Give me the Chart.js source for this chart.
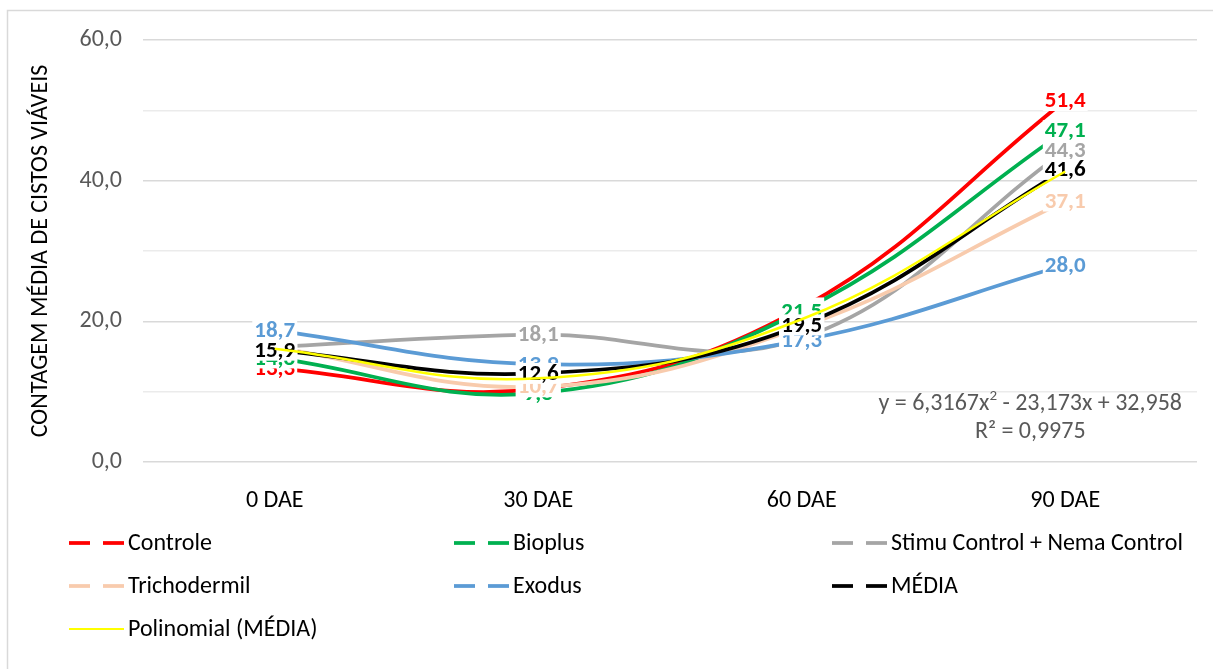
<!DOCTYPE html>
<html>
<head>
<meta charset="utf-8">
<script src="https://cdn.jsdelivr.net/npm/chart.js@4.4.1/dist/chart.umd.min.js"></script>
<style>
html,body{margin:0;padding:0;background:#fff;}
#wrap{width:1213px;height:669px;position:relative;}
</style>
</head>
<body>
<div id="wrap"><canvas id="c"></canvas></div>
<script>
const categories = ['0 DAE', '30 DAE', '60 DAE', '90 DAE'];
const controle   = [13.3, 10.4, 21.9, 51.4];
const bioplus    = [14.8, 9.8, 21.5, 47.1];
const stimu      = [16.4, 18.1, 17.6, 44.3];
const tricho     = [16.3, 10.7, 19.2, 37.1];
const exodus     = [18.7, 13.9, 17.3, 28.0];
const media      = [15.9, 12.6, 19.5, 41.6];
const polinomial = [16.1, 11.9, 20.3, 41.3];
const seriesNames = ['Controle', 'Bioplus', 'Stimu Control + Nema Control', 'Trichodermil', 'Exodus', 'MÉDIA', 'Polinomial (MÉDIA)'];
const seriesColors = ['#FF0000', '#00B050', '#A5A5A5', '#F8CBAD', '#5B9BD5', '#000000', '#FFFF00'];
const yTicks = [0, 20, 40, 60];
const equationMain = 'y = 6,3167x';
const equationSup = '2';
const equationRest = ' - 23,173x + 32,958';
const rSquared = 'R² = 0,9975';

const FONT = "Carlito, Lato, 'Liberation Sans', sans-serif";
const fmt = v => v.toFixed(1).replace('.', ',');

const valuesList = [controle, bioplus, stimu, tricho, exodus, media, polinomial];
const datasets = valuesList.map((vals, i) => ({
  label: seriesNames[i],
  data: vals,
  borderColor: seriesColors[i],
  backgroundColor: seriesColors[i],
  borderWidth: i === 6 ? 2.5 : 3.75,
  pointRadius: 0,
  tension: 0.4,
  fill: false,
  order: 6 - i
}));

const TREND = 6;

const labelPlugin = {
  id: 'valueLabels',
  beforeDatasetDraw(chart, args) {
    if (args.index !== TREND) return;
    const ctx = chart.ctx;
    ctx.save();
    ctx.font = "bold 23px " + FONT;
    ctx.textAlign = 'center';
    ctx.textBaseline = 'middle';
    for (let d = 0; d < TREND; d++) {
      const meta = chart.getDatasetMeta(d);
      meta.data.forEach((pt, j) => {
        const txt = fmt(chart.data.datasets[d].data[j]);
        const w = ctx.measureText(txt).width;
        const h = 21;
        ctx.fillStyle = '#FFFFFF';
        ctx.fillRect(pt.x - w / 2 - 2, pt.y - h / 2, w + 4, h);
        ctx.fillStyle = seriesColors[d];
        ctx.fillText(txt, pt.x, pt.y + 1);
      });
    }
    ctx.restore();
  }
};

const decorPlugin = {
  id: 'decor',
  beforeDraw(chart) {
    const ctx = chart.ctx;
    ctx.save();
    ctx.strokeStyle = '#D9D9D9';
    ctx.lineWidth = 1.5;
    ctx.strokeRect(7.5, 10.5, 1300, 700);
    ctx.restore();
  },
  afterDraw(chart) {
    const ctx = chart.ctx;
    ctx.save();
    // legend
    const cols = [69, 454, 832];
    const rows = [543, 586, 629];
    ctx.font = "24px " + FONT;
    ctx.textBaseline = 'middle';
    ctx.textAlign = 'left';
    seriesNames.forEach((name, i) => {
      const x = cols[i % 3];
      const y = rows[Math.floor(i / 3)];
      ctx.strokeStyle = seriesColors[i];
      ctx.lineCap = 'butt';
      if (i === TREND) {
        ctx.lineWidth = 2;
        ctx.beginPath(); ctx.moveTo(x, y); ctx.lineTo(x + 55, y); ctx.stroke();
      } else {
        ctx.lineWidth = 3.75;
        ctx.beginPath(); ctx.moveTo(x, y); ctx.lineTo(x + 21, y); ctx.stroke();
        ctx.beginPath(); ctx.moveTo(x + 34, y); ctx.lineTo(x + 55, y); ctx.stroke();
      }
      ctx.fillStyle = '#000000';
      ctx.fillText(name, x + 59, y + 1);
    });
    // equation
    ctx.fillStyle = '#595959';
    const mainFont = "24px " + FONT;
    const supFont = "15px " + FONT;
    ctx.font = mainFont;
    const wMain = ctx.measureText(equationMain).width;
    const wRest = ctx.measureText(equationRest).width;
    ctx.font = supFont;
    const wSup = ctx.measureText(equationSup).width;
    const right = 1182;
    const total = wMain + wSup + wRest;
    let x = right - total;
    const ey = 404;
    ctx.textAlign = 'left';
    ctx.font = mainFont;
    ctx.fillText(equationMain, x, ey);
    x += wMain;
    ctx.font = supFont;
    ctx.fillText(equationSup, x, ey - 8);
    x += wSup;
    ctx.font = mainFont;
    ctx.fillText(equationRest, x, ey);
    ctx.textAlign = 'center';
    ctx.fillText(rSquared, right - total / 2, 432);
    ctx.restore();
  }
};

new Chart(document.getElementById('c'), {
  type: 'line',
  data: { labels: categories, datasets },
  options: {
    responsive: true,
    maintainAspectRatio: false,
    animation: false,
    layout: { padding: { left: 0, top: 40, right: 16, bottom: 157 } },
    plugins: { legend: { display: false }, tooltip: { enabled: false } },
    scales: {
      x: {
        offset: true,
        grid: { display: false },
        border: { display: false },
        ticks: { color: '#000000', font: { family: FONT, size: 24 }, padding: 17 },
        afterFit(s) { s.height = 50; }
      },
      y: {
        min: 0, max: 60,
        border: { display: false },
        grid: {
          drawTicks: false,
          lineWidth: 1.5,
          color: c => (c.tick && c.tick.value % 20 === 0) ? '#D9D9D9' : '#EBEBEB'
        },
        ticks: {
          stepSize: 10,
          padding: 21,
          color: '#595959',
          font: { family: FONT, size: 24 },
          callback: v => yTicks.includes(v) ? fmt(v) : ''
        },
        title: {
          display: true,
          text: 'CONTAGEM MÉDIA DE CISTOS VIÁVEIS',
          color: '#000000',
          font: { family: FONT, size: 24 },
          padding: { top: 27, bottom: 0 }
        },
        afterFit(s) { s.width = 143; }
      }
    }
  },
  plugins: [labelPlugin, decorPlugin]
});
</script>
</body>
</html>
